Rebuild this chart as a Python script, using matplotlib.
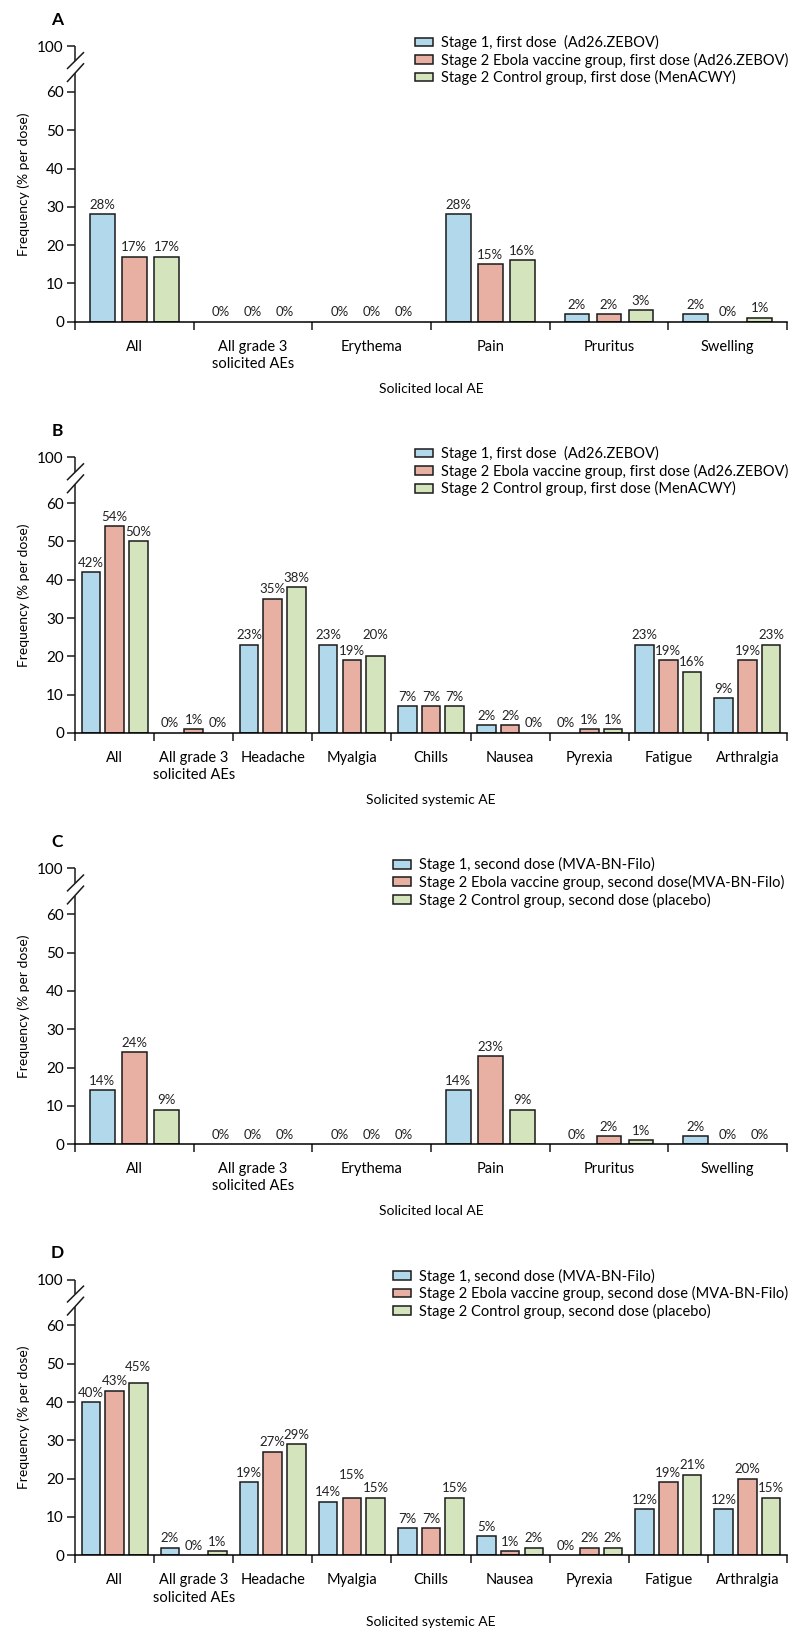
import numpy as np
import matplotlib
matplotlib.use('Agg')
import matplotlib.pyplot as plt
import matplotlib.transforms as mtrans

plt.rcParams['font.family'] = ['Lato', 'DejaVu Sans']

# ---- data ----
local_cats = ['All', 'All grade 3\nsolicited AEs', 'Erythema', 'Pain', 'Pruritus', 'Swelling']
systemic_cats = ['All', 'All grade 3\nsolicited AEs', 'Headache', 'Myalgia', 'Chills',
                 'Nausea', 'Pyrexia', 'Fatigue', 'Arthralgia']

first_labels = ['Stage 1, first dose  (Ad26.ZEBOV)',
                'Stage 2 Ebola vaccine group, first dose (Ad26.ZEBOV)',
                'Stage 2 Control group, first dose (MenACWY)']
second_labels_c = ['Stage 1, second dose (MVA-BN-Filo)',
                   'Stage 2 Ebola vaccine group, second dose(MVA-BN-Filo)',
                   'Stage 2 Control group, second dose (placebo)']
second_labels_d = ['Stage 1, second dose (MVA-BN-Filo)',
                   'Stage 2 Ebola vaccine group, second dose (MVA-BN-Filo)',
                   'Stage 2 Control group, second dose (placebo)']

a_stage1 = [28, 0, 0, 28, 2, 2]
a_ebola = [17, 0, 0, 15, 2, 0]
a_control = [17, 0, 0, 16, 3, 1]

b_stage1 = [42, 0, 23, 23, 7, 2, 0, 23, 9]
b_ebola = [54, 1, 35, 19, 7, 2, 1, 19, 19]
b_control = [50, 0, 38, 20, 7, 0, 1, 16, 23]

c_stage1 = [14, 0, 0, 14, 0, 2]
c_ebola = [24, 0, 0, 23, 2, 0]
c_control = [9, 0, 0, 9, 1, 0]

d_stage1 = [40, 2, 19, 14, 7, 5, 0, 12, 12]
d_ebola = [43, 0, 27, 15, 7, 1, 2, 19, 20]
d_control = [45, 1, 29, 15, 15, 2, 2, 21, 15]

colors = ['#B1D9EB', '#E7B0A3', '#D4E4BC']

# small manual lifts of value labels to avoid overlaps (panel, series, category)
nudges = {('B', 2, 3): 3.0, ('D', 1, 3): 3.4, ('D', 2, 0): 1.8}

# ---- layout (pixels) ----
W, H = 800, 1641
X0, X1 = 75, 787
baselines = [321.7, 732.9, 1144.1, 1555.2]
AX_H = 275.7
TOP = 72  # data position used for the "100" tick

fig = plt.figure(figsize=(W / 100, H / 100), dpi=100)


def draw_panel(base, letter, cats, series, labels, xlabel, legend_left):
    ax = fig.add_axes([X0 / W, 1 - base / H, (X1 - X0) / W, AX_H / H])
    n = len(cats)
    if n == 6:
        step, width = 0.27, 0.21
    else:
        step, width = 0.30, 0.235
    centers = np.arange(n) + 0.5
    handles = []
    for k, vals in enumerate(series):
        xs = centers + (k - 1) * step
        lws = [1.1 if v > 0 else 0 for v in vals]
        h = ax.bar(xs, vals, width, color=colors[k], edgecolor='#1a1a1a',
                   linewidth=lws, zorder=2)
        handles.append(h)
        for i, v in enumerate(vals):
            ax.annotate(f'{v}%', (xs[i], v + nudges.get((letter, k, i), 0)),
                        xytext=(0, 2.5), textcoords='offset points',
                        ha='center', va='bottom', fontsize=9.5, color='#222222')

    ax.set_xlim(0, n)
    ax.set_ylim(0, TOP)
    ax.set_yticks([0, 10, 20, 30, 40, 50, 60, TOP])
    ax.set_yticklabels(['0', '10', '20', '30', '40', '50', '60', '100'])
    ax.set_xticks(np.arange(n + 1))
    ax.set_xticklabels([])
    ax.set_xticks(centers, minor=True)
    ax.set_xticklabels(cats, minor=True, fontsize=10.5, linespacing=1.3)
    ax.tick_params(axis='x', which='minor', length=0, pad=13)
    ax.tick_params(axis='both', which='major', direction='out', length=6,
                   width=1.1, labelsize=11, color='#1a1a1a')
    ax.tick_params(axis='y', pad=2)

    for s in ['top', 'right', 'left']:
        ax.spines[s].set_visible(False)
    ax.spines['bottom'].set_linewidth(1.1)

    # broken y axis
    tr = mtrans.blended_transform_factory(ax.transAxes, ax.transData)
    kw = dict(transform=tr, color='#1a1a1a', lw=1.1, clip_on=False,
              solid_capstyle='butt')
    ax.plot([0, 0], [0, 64.9], **kw)
    ax.plot([0, 0], [68.1, TOP], **kw)
    dx0, dx1 = -8 / (X1 - X0), 9 / (X1 - X0)
    ax.plot([dx0, dx1], [66.0, 70.4], **kw)
    ax.plot([dx0, dx1], [62.6, 67.5], **kw)

    ax.set_ylabel('Frequency (% per dose)', fontsize=10)
    ax.yaxis.set_label_coords(-0.063, 0.5)
    ax.set_xlabel(xlabel, fontsize=10)
    ax.xaxis.set_label_coords(0.5, -0.222)

    fig.text(57 / W, 1 - (base - AX_H - 26) / H, letter, fontsize=12.5,
             fontweight='bold', ha='center', va='center')

    ax.legend(handles, labels, loc='upper left',
              bbox_to_anchor=(legend_left / W, 1 - (base - AX_H - 11) / H),
              bbox_transform=fig.transFigure, frameon=False, fontsize=10.5,
              borderpad=0, borderaxespad=0, handlelength=1.25, handleheight=0.55,
              handletextpad=0.5, labelspacing=0.17)
    return ax


draw_panel(baselines[0], 'A', local_cats, [a_stage1, a_ebola, a_control],
           first_labels, 'Solicited local AE', 415)
draw_panel(baselines[1], 'B', systemic_cats, [b_stage1, b_ebola, b_control],
           first_labels, 'Solicited systemic AE', 415)
draw_panel(baselines[2], 'C', local_cats, [c_stage1, c_ebola, c_control],
           second_labels_c, 'Solicited local AE', 393)
draw_panel(baselines[3], 'D', systemic_cats, [d_stage1, d_ebola, d_control],
           second_labels_d, 'Solicited systemic AE', 393)

fig.savefig('out.png', dpi=100)
